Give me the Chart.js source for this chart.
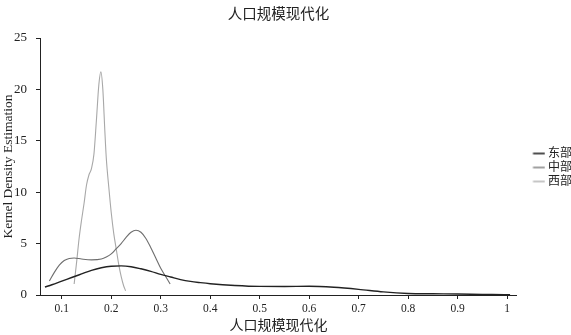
<!DOCTYPE html>
<html><head><meta charset="utf-8">
<script src="https://cdn.jsdelivr.net/npm/chart.js@4.4.0/dist/chart.umd.min.js"></script>
<style>html,body{margin:0;padding:0;background:#fff}#wrap{width:571px;height:335px}</style>
</head><body><div id="wrap"><canvas id="c" width="571" height="335"></canvas></div>
<script>
const chartTitle = '人口规模现代化';
const xTitle = '人口规模现代化';
const yTitle = 'Kernel Density Estimation';
const seriesNames = ['东部', '中部', '西部'];

const eastX = [0.066,0.08,0.1,0.12,0.14,0.16,0.18,0.2,0.22,0.24,0.26,0.28,0.3,0.32,0.34,0.36,0.38,0.4,0.45,0.5,0.55,0.6,0.65,0.7,0.75,0.8,0.85,0.9,0.95,1.0,1.006];
const eastY = [0.78,1.0,1.35,1.7,2.05,2.4,2.65,2.8,2.83,2.75,2.55,2.3,2.0,1.75,1.5,1.32,1.2,1.1,0.93,0.84,0.83,0.85,0.75,0.55,0.3,0.15,0.12,0.1,0.06,0.03,0.02];

const midX = [0.075,0.085,0.095,0.105,0.115,0.125,0.14,0.16,0.18,0.19,0.2,0.21,0.22,0.23,0.24,0.25,0.26,0.27,0.28,0.29,0.3,0.31,0.319];
const midY = [1.36,2.2,2.9,3.35,3.55,3.6,3.5,3.42,3.5,3.7,4.0,4.5,5.0,5.6,6.1,6.3,6.1,5.5,4.6,3.6,2.6,1.8,1.07];

const westX = [0.125,0.13,0.135,0.14,0.145,0.15,0.155,0.16,0.165,0.17,0.175,0.179,0.183,0.187,0.19,0.195,0.2,0.205,0.21,0.215,0.22,0.225,0.229];
const westY = [1.07,3.2,5.5,7.3,8.9,10.7,11.7,12.3,13.7,17.0,20.5,21.7,20.0,16.0,13.3,10.5,8.0,6.0,4.5,3.0,1.8,0.9,0.42];

const xTicks = [0.1,0.2,0.3,0.4,0.5,0.6,0.7,0.8,0.9,1];
const yTicks = [0,5,10,15,20,25];

const F = "'Liberation Serif', 'Noto Sans CJK SC', serif";
const colors = ['#222222', '#6e6e6e', '#a8a8a8'];
const widths = [1.4, 1.1, 1.1];

function legendLine(color, w) {
  const c = document.createElement('canvas');
  c.width = 30; c.height = 4;
  const g = c.getContext('2d');
  g.strokeStyle = color; g.lineWidth = w;
  g.beginPath(); g.moveTo(17.5, 2); g.lineTo(29.5, 2); g.stroke();
  return c;
}

function pts(xs, ys) { return xs.map((x, i) => ({x: x, y: ys[i]})); }

const series = [pts(eastX, eastY), pts(midX, midY), pts(westX, westY)];

new Chart(document.getElementById('c'), {
  type: 'line',
  data: {
    datasets: series.map((d, i) => ({
      label: seriesNames[i],
      data: d,
      borderColor: colors[i],
      backgroundColor: colors[i],
      borderWidth: widths[i],
      pointRadius: 0,
      pointHoverRadius: 0,
      pointStyle: legendLine(colors[i], widths[i] + 0.2),
      cubicInterpolationMode: 'monotone',
      fill: false
    }))
  },
  options: {
    responsive: false,
    animation: false,
    devicePixelRatio: 1,
    layout: {padding: {left: 0, right: -11, top: 0, bottom: 0}},
    plugins: {
      title: {display: true, text: chartTitle, fullSize: false, color: '#222',
        font: {family: F, size: 14.5, weight: 'normal'}, padding: {top: 6, bottom: 14.6}},
      legend: {position: 'right', align: 'center',
        labels: {usePointStyle: true, pointStyleWidth: 23, padding: 2, color: '#222',
          font: {family: F, size: 12}}},
      tooltip: {enabled: false}
    },
    scales: {
      x: {
        type: 'linear', min: 0.056, max: 1.02,
        afterBuildTicks: s => { s.ticks = xTicks.map(v => ({value: v})); },
        afterFit: s => { s.height = 40; },
        grid: {drawOnChartArea: false, drawTicks: true, tickLength: 4, color: '#222'},
        border: {color: '#222', width: 1},
        ticks: {font: {family: F, size: 11.5}, color: '#222', padding: 3, maxRotation: 0, autoSkip: false,
          callback: v => String(v)},
        title: {display: true, text: xTitle, color: '#222', font: {family: F, size: 14}, padding: 0}
      },
      y: {
        type: 'linear', min: 0, max: 25,
        afterBuildTicks: s => { s.ticks = yTicks.map(v => ({value: v})); },
        afterFit: s => { s.width = 40; },
        grid: {drawOnChartArea: false, drawTicks: true, tickLength: 4, color: '#222'},
        border: {color: '#222', width: 1},
        ticks: {font: {family: F, size: 13}, color: '#222', padding: 9, callback: v => String(v)},
        title: {display: true, text: yTitle, color: '#222', font: {family: F, size: 13.5}, padding: 0}
      }
    }
  }
});
</script>
</body></html>
